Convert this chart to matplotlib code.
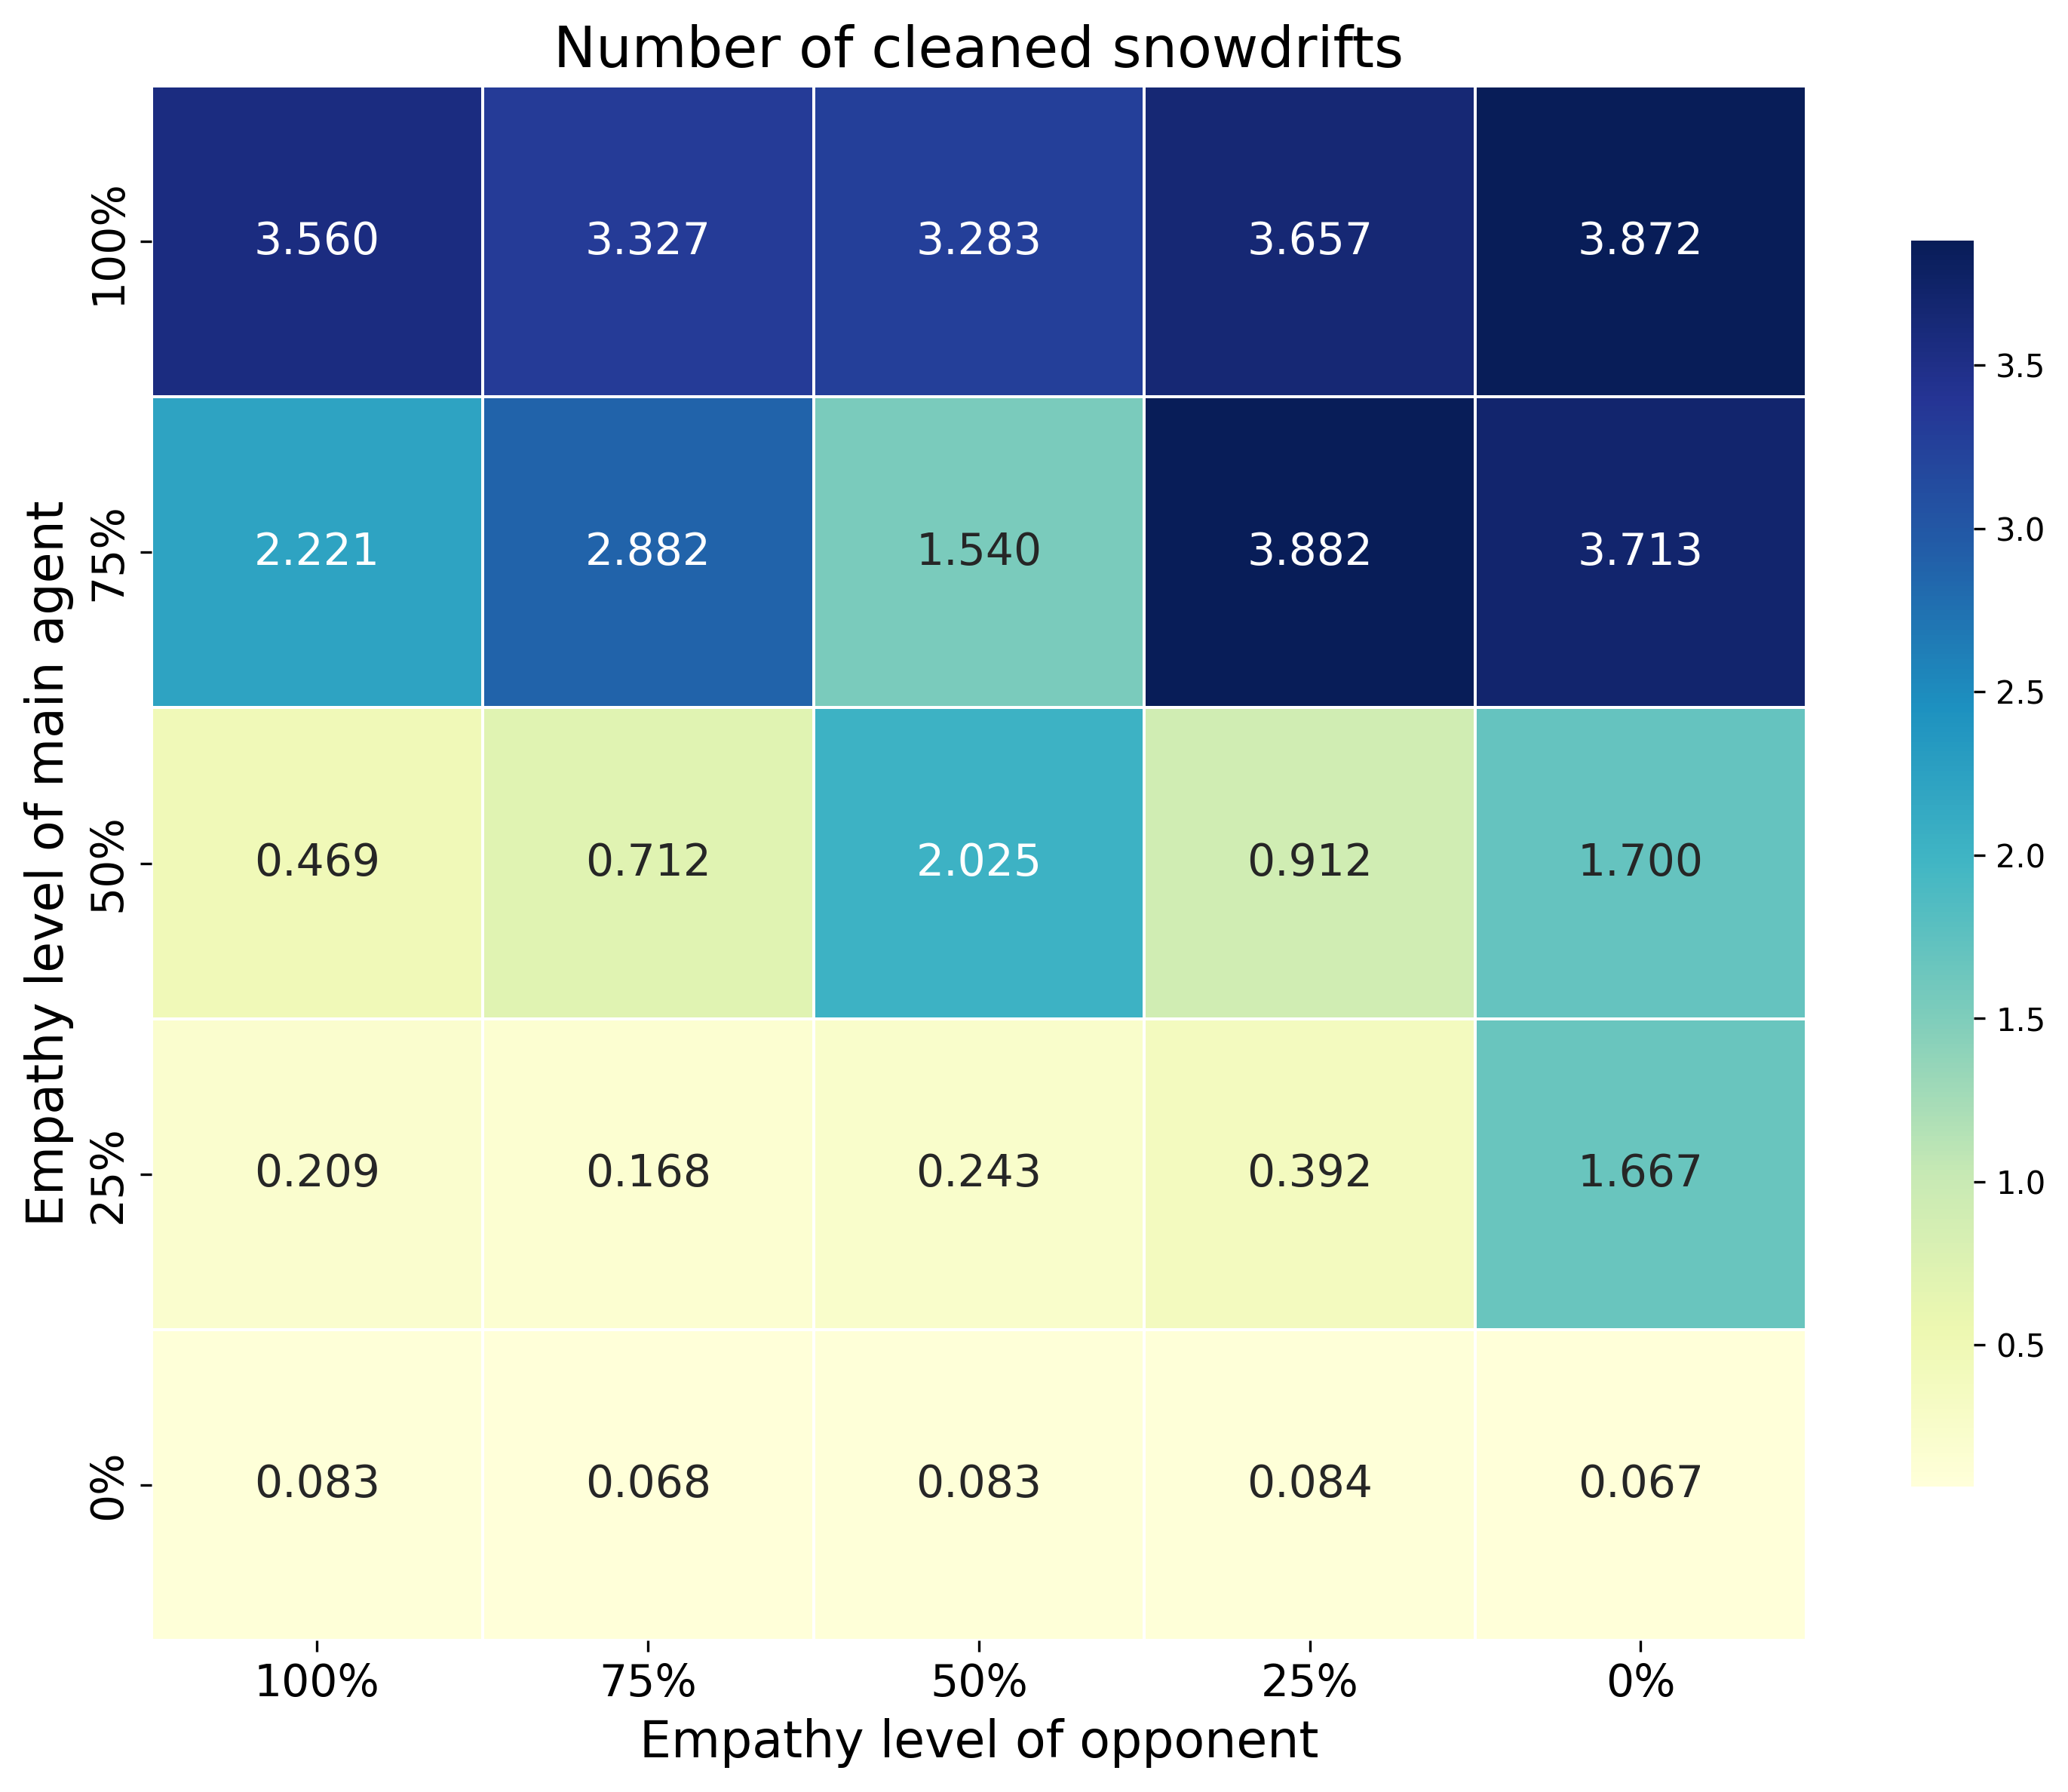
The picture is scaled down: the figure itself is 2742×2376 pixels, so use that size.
import matplotlib

matplotlib.use("Agg")
import matplotlib.pyplot as plt
import numpy as np
import seaborn as sns

# empathy levels, main agent rows (top to bottom) and opponent columns
main_levels = ["100%", "75%", "50%", "25%", "0%"]
opponent_levels = ["100%", "75%", "50%", "25%", "0%"]

# mean number of cleaned snowdrifts
cleaned = np.array([
    [3.560, 3.327, 3.283, 3.657, 3.872],
    [2.221, 2.882, 1.540, 3.882, 3.713],
    [0.469, 0.712, 2.025, 0.912, 1.700],
    [0.209, 0.168, 0.243, 0.392, 1.667],
    [0.083, 0.068, 0.083, 0.084, 0.067],
])

fig = plt.figure(figsize=(2742 / 300, 2376 / 300), dpi=300)
ax = fig.add_axes([0.0733, 0.0846, 0.8001, 0.8674])
cax = fig.add_axes([0.9241, 0.1705, 0.0303, 0.6953])

sns.heatmap(
    cleaned,
    ax=ax,
    cbar_ax=cax,
    annot=True,
    fmt=".3f",
    cmap="YlGnBu",
    linewidths=0.9,
    linecolor="white",
    annot_kws={"size": 14},
    xticklabels=opponent_levels,
    yticklabels=main_levels,
)

ax.set_title("Number of cleaned snowdrifts", fontsize=18)
ax.set_xlabel("Empathy level of opponent", fontsize=16)
ax.set_ylabel("Empathy level of main agent", fontsize=16)
ax.tick_params(axis="both", labelsize=14)
plt.setp(ax.get_yticklabels(), rotation=90, va="center")
cax.tick_params(labelsize=10)

fig.savefig("out.png", dpi=300)
